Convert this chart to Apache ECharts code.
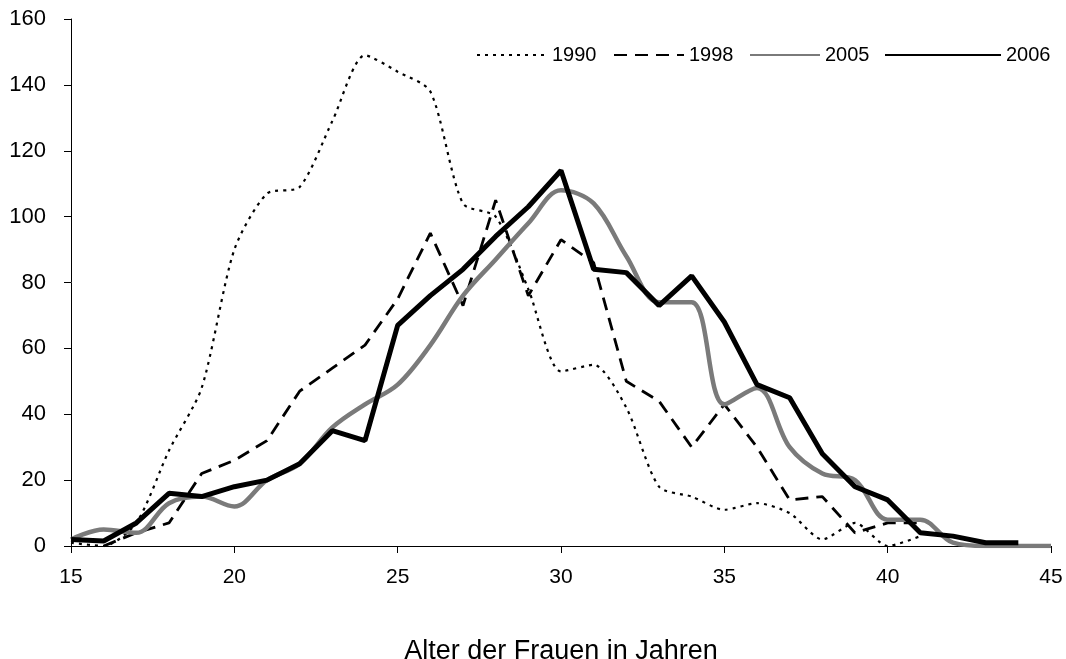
<!DOCTYPE html>
<html>
<head>
<meta charset="utf-8">
<script src="https://cdn.jsdelivr.net/npm/echarts@6/dist/echarts.min.js"></script>
<style>
html,body{margin:0;padding:0;background:#fff;}
#chart{width:1066px;height:659px;}
</style>
</head>
<body>
<div id="chart"></div>
<script>
// ---- data ----
const ages1990 = [15,16,17,18,19,20,21,22,23,24,25,26,27,28,29,30,31,32,33,34,35,36,37,38,39,40,41];
const values1990 = [1,0,7,29,48,90,107,109,129,149,144,138,104,100,78,53,55,42,18,15,11,13,10,2,7,0,3];

const ages1998 = [16,17,18,19,20,21,22,23,24,25,26,27,28,29,30,31,32,33,34,35,36,37,38,39,40,41];
const values1998 = [0,4,7,22,26,32,47,54,61,75,95,73,105,76,93,86,50,44,30,43,30,14,15,4,7,7];

const ages2005 = [15,16,17,18,19,20,21,22,23,24,25,26,27,28,29,30,31,32,33,34,35,36,37,38,39,40,41,42,43,44,45];
const values2005 = [2,5,4,13,15,12,20,25,36,43,49,61,76,87,98,108,104,88,74,74,43,48,30,22,20,8,8,1,0,0,0];

const ages2006 = [15,16,17,18,19,20,21,22,23,24,25,26,27,28,29,30,31,32,33,34,35,36,37,38,39,40,41,42,43,44];
const values2006 = [2,1.5,7,16,15,18,20,25,35,32,67,76,84,94,103,114,84,83,73,82,68,49,45,28,18,14,4,3,1,1];

const xTicks = {min:15, max:45, interval:5};
const yTicks = {min:0, max:160, interval:20};

const seriesNames = ['1990','1998','2005','2006'];
const xName = 'Alter der Frauen in Jahren';

function pairs(xs, ys){ return xs.map((x,i)=>[x, ys[i]]); }

const FONT = 'Liberation Sans, Arial, sans-serif';
const legendLefts = [471, 608, 744, 879];
const legendWidths = [70, 70, 70, 116];
const legends = seriesNames.map((n,i)=>({
  data:[n], left:legendLefts[i], top:40, itemWidth:legendWidths[i], itemHeight:14,
  itemStyle:{opacity:0},
  textStyle:{fontSize:20,color:'#000',fontFamily:FONT}
}));

const chart = echarts.init(document.getElementById('chart'));
chart.setOption({
  animation:false,
  backgroundColor:'#fff',
  textStyle:{fontFamily:FONT},
  grid:{left:71,right:15,top:19,bottom:113,containLabel:false,outerBoundsMode:'none'},
  legend:legends,
  xAxis:{
    type:'value', min:xTicks.min, max:xTicks.max, interval:xTicks.interval,
    name:xName, nameLocation:'middle', nameGap:92,
    nameTextStyle:{fontSize:27,color:'#000',fontFamily:FONT},
    axisLine:{show:true,lineStyle:{color:'#000',width:1}},
    axisTick:{show:true,length:7,lineStyle:{color:'#000'}},
    axisLabel:{fontSize:21,color:'#000',margin:21,fontFamily:FONT},
    splitLine:{show:false}
  },
  yAxis:{
    type:'value', min:yTicks.min, max:yTicks.max, interval:yTicks.interval,
    axisLine:{show:true,lineStyle:{color:'#000',width:1}},
    axisTick:{show:true,length:7,lineStyle:{color:'#000'}},
    axisLabel:{fontSize:22,color:'#000',margin:25,fontFamily:FONT},
    splitLine:{show:false}
  },
  series:[
    {name:seriesNames[0], type:'line', data:pairs(ages1990,values1990), symbol:'none', smooth:0.25,
     lineStyle:{color:'#000',width:2.2,type:[3,5]}, itemStyle:{color:'#000'}},
    {name:seriesNames[1], type:'line', data:pairs(ages1998,values1998), symbol:'none',
     lineStyle:{color:'#000',width:2.8,type:[13,8]}, itemStyle:{color:'#000'}},
    {name:seriesNames[2], type:'line', data:pairs(ages2005,values2005), symbol:'none', smooth:0.35,
     lineStyle:{color:'#7a7a7a',width:4.5}, itemStyle:{color:'#7a7a7a'}},
    {name:seriesNames[3], type:'line', data:pairs(ages2006,values2006), symbol:'none',
     lineStyle:{color:'#000',width:5}, itemStyle:{color:'#000'}}
  ]
});
</script>
</body>
</html>
